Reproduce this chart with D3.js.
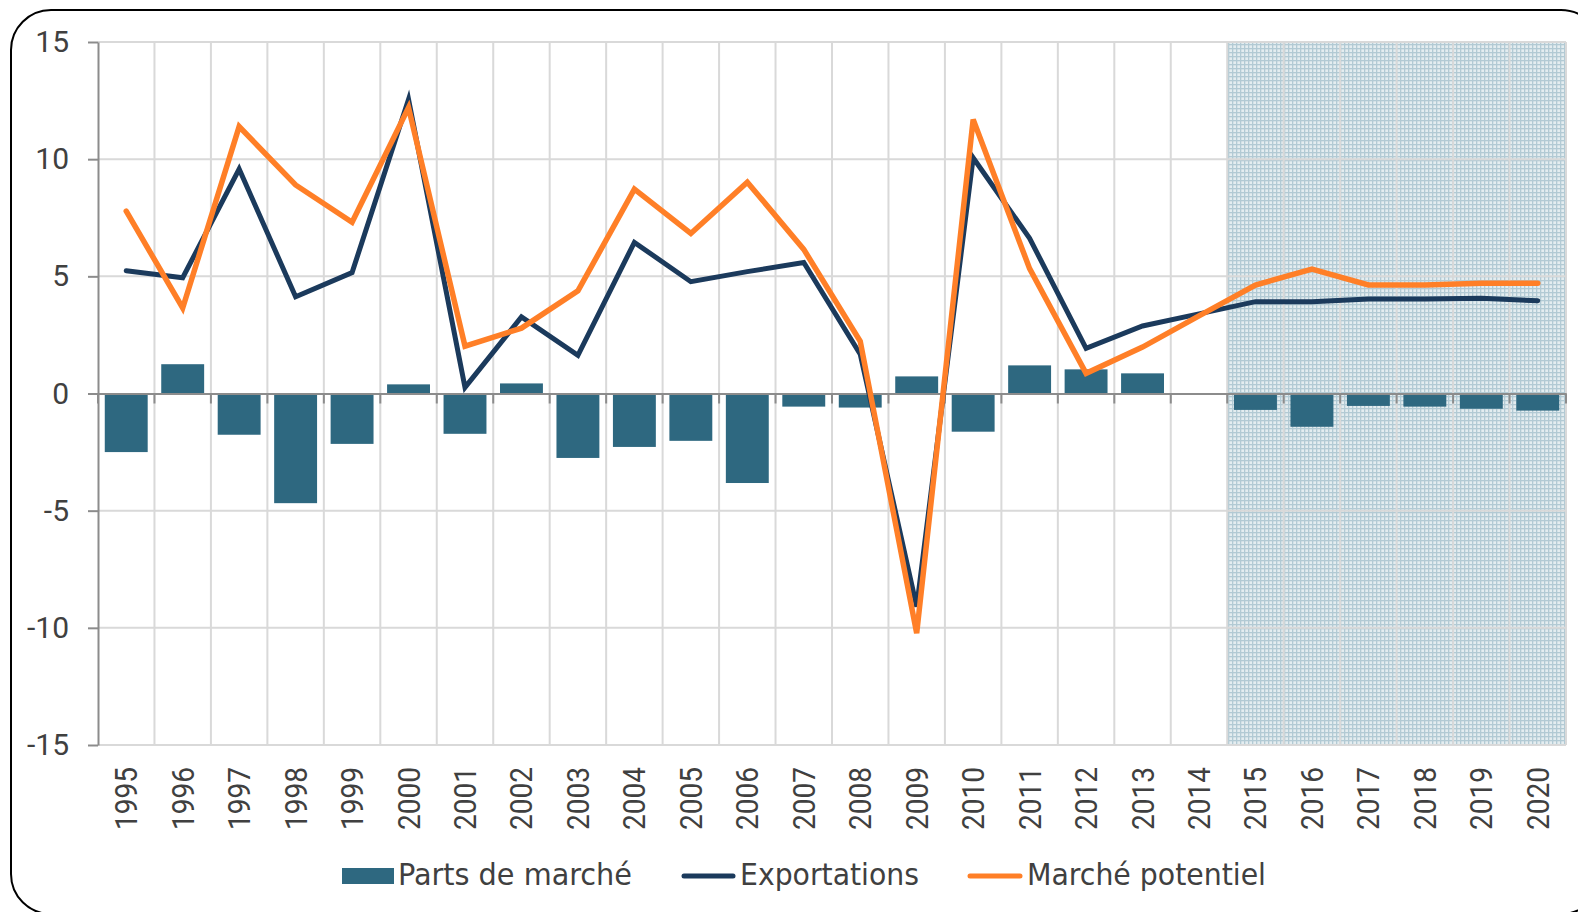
<!DOCTYPE html>
<html>
<head>
<meta charset="utf-8">
<script src="https://cdn.jsdelivr.net/npm/d3@7"></script>
<style>
  html, body { margin: 0; padding: 0; background: #fff; }
  svg { display: block; }
</style>
</head>
<body>
<svg id="chart" width="1578" height="912"></svg>
<script>
// ---- Data ----
const years = ["1995","1996","1997","1998","1999","2000","2001","2002","2003","2004","2005","2006","2007","2008","2009","2010","2011","2012","2013","2014","2015","2016","2017","2018","2019","2020"];
const partsDeMarche = [-2.5, 1.25, -1.76, -4.68, -2.15, 0.39, -1.72, 0.43, -2.75, -2.28, -2.02, -3.82, -0.56, -0.6, 0.73, -1.63, 1.2, 1.03, 0.86, 0, -0.7, -1.42, -0.53, -0.56, -0.65, -0.73];
const exportations = [5.24, 4.94, 9.58, 4.13, 5.16, 12.55, 0.26, 3.27, 1.63, 6.45, 4.77, 5.2, 5.59, 1.68, -9.1, 10.06, 6.62, 1.93, 2.88, 3.4, 3.92, 3.92, 4.03, 4.03, 4.06, 3.96];
const marchePotentiel = [7.78, 3.65, 11.39, 8.9, 7.31, 12.2, 2.02, 2.79, 4.38, 8.72, 6.83, 9.02, 6.15, 2.23, -10.23, 11.69, 5.33, 0.86, 1.98, 3.31, 4.63, 5.31, 4.63, 4.63, 4.7, 4.7];
const yTicks = [-15, -10, -5, 0, 5, 10, 15];
const forecastStart = "2015";
const legendLabels = ["Parts de marché", "Exportations", "Marché potentiel"];

// ---- Layout ----
const svg = d3.select("#chart");
const L = 98, R = 1566, T = 42, B = 745;
const cBar = "#2e6880", cExp = "#1b3a5c", cMar = "#ff7f27";
const grid = "#d9d9d9", axisC = "#8c8c8c", txt = "#404040";

const x = d3.scaleBand().domain(years).range([L, R]).padding(0);
const y = d3.scaleLinear().domain([-15, 15]).range([B, T]);
const step = x.step();
const cx = d => x(d) + step / 2;

// frame
svg.append("rect").attr("x", 11).attr("y", 10).attr("width", 1590).attr("height", 904)
  .attr("rx", 40).attr("ry", 40).attr("fill", "none").attr("stroke", "#000").attr("stroke-width", 2);

// pattern
const defs = svg.append("defs");
const pat = defs.append("pattern").attr("id", "hatch").attr("patternUnits", "userSpaceOnUse")
  .attr("width", 4).attr("height", 4);
pat.append("rect").attr("width", 4).attr("height", 4).attr("fill", "#e4edf0");
pat.append("rect").attr("width", 4).attr("height", 1.3).attr("fill", "#b2cad4");
pat.append("rect").attr("width", 1.3).attr("height", 4).attr("fill", "#b2cad4");

// shaded forecast area
svg.append("rect").attr("x", x(forecastStart)).attr("y", y(15))
  .attr("width", R - x(forecastStart)).attr("height", y(-15) - y(15))
  .attr("fill", "url(#hatch)");

// gridlines
const gH = svg.append("g");
yTicks.filter(v => v !== 0).forEach(v => {
  gH.append("line").attr("x1", L).attr("x2", R).attr("y1", y(v)).attr("y2", y(v))
    .attr("stroke", grid).attr("stroke-width", 2);
});
years.forEach((yr, i) => {
  if (i === 0) return;
  gH.append("line").attr("x1", x(yr)).attr("x2", x(yr)).attr("y1", T).attr("y2", B)
    .attr("stroke", grid).attr("stroke-width", 2);
});
gH.append("line").attr("x1", R).attr("x2", R).attr("y1", T).attr("y2", B)
  .attr("stroke", grid).attr("stroke-width", 2);

// bars
svg.append("g").selectAll("rect").data(years).join("rect")
  .attr("x", d => x(d) + step * 0.12)
  .attr("width", step * 0.76)
  .attr("y", (d, i) => y(Math.max(0, partsDeMarche[i])))
  .attr("height", (d, i) => Math.abs(y(partsDeMarche[i]) - y(0)))
  .attr("fill", cBar);

// x axis at zero
const gx = svg.append("g").attr("transform", `translate(0,${y(0)})`)
  .call(d3.axisBottom(x).tickValues([]).tickSizeOuter(0));
gx.select(".domain").attr("stroke", axisC).attr("stroke-width", 2);
years.concat(["end"]).forEach((yr, i) => {
  const xx = i < years.length ? x(yr) : R;
  gx.append("line").attr("x1", xx).attr("x2", xx).attr("y1", 0).attr("y2", 10)
    .attr("stroke", axisC).attr("stroke-width", 2);
});

// y axis
const gy = svg.append("g").attr("transform", `translate(${L},0)`)
  .call(d3.axisLeft(y).tickValues(yTicks).tickFormat(d => String(d)).tickSize(10).tickSizeOuter(0).tickPadding(19));
gy.select(".domain").attr("stroke", axisC).attr("stroke-width", 2);
gy.selectAll(".tick line").attr("stroke", axisC).attr("stroke-width", 2);
gy.selectAll(".tick text").attr("fill", txt).attr("font-family", "Roboto").attr("font-size", 30);

// year labels
svg.append("g").selectAll("text").data(years).join("text")
  .attr("transform", d => `translate(${cx(d) + 11},767) rotate(-90)`)
  .attr("text-anchor", "end")
  .attr("font-family", "Roboto").attr("font-size", 31)
  .attr("textLength", 63).attr("lengthAdjust", "spacingAndGlyphs")
  .attr("fill", txt).text(d => d);

// lines
const line = arr => d3.line().x((d, i) => cx(years[i])).y(d => y(d))(arr);
svg.append("path").attr("d", line(exportations)).attr("fill", "none")
  .attr("stroke", cExp).attr("stroke-width", 5).attr("stroke-linejoin", "miter").attr("stroke-linecap", "round");
svg.append("path").attr("d", line(marchePotentiel)).attr("fill", "none")
  .attr("stroke", cMar).attr("stroke-width", 5.5).attr("stroke-linejoin", "miter").attr("stroke-linecap", "round");

// legend
const lg = svg.append("g").attr("font-family", "'DejaVu Sans Condensed', 'DejaVu Sans', sans-serif")
  .attr("font-size", 30).attr("fill", txt);
lg.append("rect").attr("x", 342).attr("y", 868).attr("width", 52).attr("height", 16).attr("fill", cBar);
lg.append("text").attr("x", 398).attr("y", 885).attr("textLength", 234).attr("lengthAdjust", "spacingAndGlyphs").text(legendLabels[0]);
lg.append("line").attr("x1", 684).attr("x2", 733).attr("y1", 876).attr("y2", 876)
  .attr("stroke", cExp).attr("stroke-width", 5).attr("stroke-linecap", "round");
lg.append("text").attr("x", 740).attr("y", 885).attr("textLength", 179).attr("lengthAdjust", "spacingAndGlyphs").text(legendLabels[1]);
lg.append("line").attr("x1", 970).attr("x2", 1020).attr("y1", 876).attr("y2", 876)
  .attr("stroke", cMar).attr("stroke-width", 5).attr("stroke-linecap", "round");
lg.append("text").attr("x", 1027).attr("y", 885).attr("textLength", 239).attr("lengthAdjust", "spacingAndGlyphs").text(legendLabels[2]);
</script>
</body>
</html>
